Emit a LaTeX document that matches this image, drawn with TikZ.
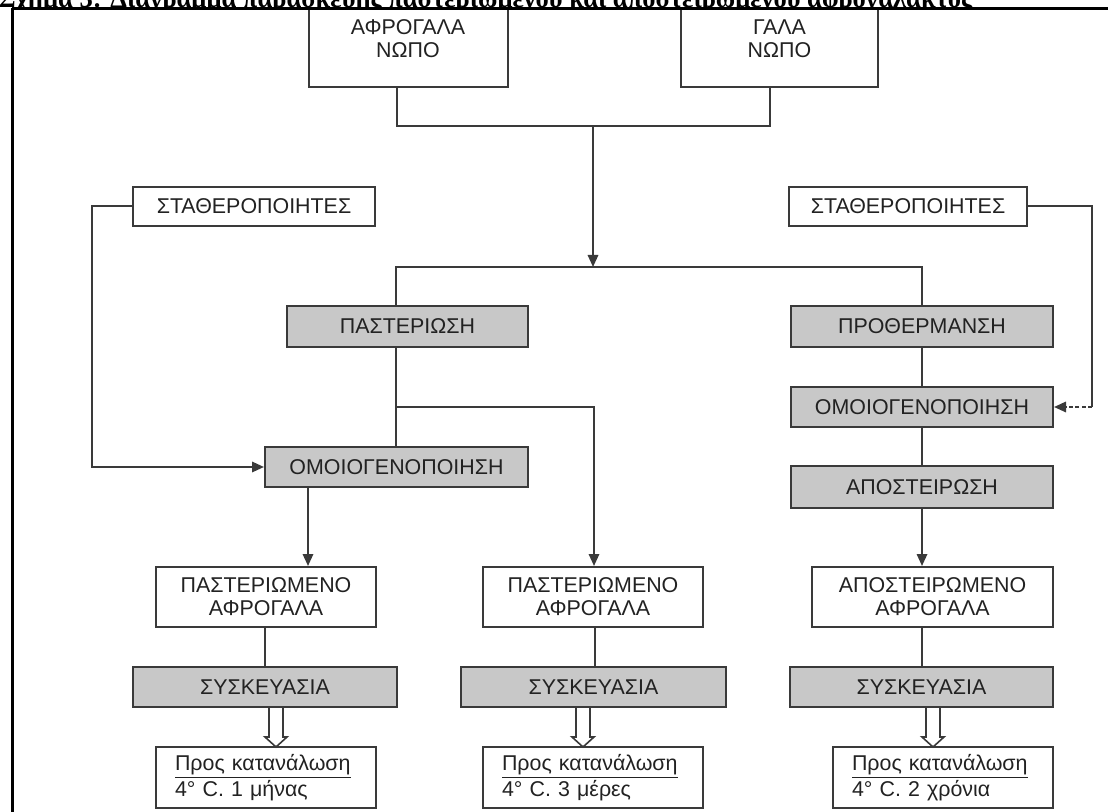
\documentclass[tikz,border=0pt]{standalone}
\usepackage{fontspec}
\setmainfont{Liberation Serif}
\newfontfamily\boxfont{Liberation Sans}
\usetikzlibrary{arrows.meta}
\definecolor{linec}{HTML}{3A3A3A}
\definecolor{boxgrey}{HTML}{C8C8C8}
\definecolor{textc}{HTML}{222222}

\begin{document}
\begin{tikzpicture}[x=0.5pt,y=-0.5pt,
  box/.style={draw=linec,line width=1pt,fill=white,inner sep=0pt,align=center,
    text=textc,font={\boxfont\fontsize{10.7pt}{11.6pt}\selectfont}},
  gbox/.style={box,fill=boxgrey},
  conn/.style={draw=linec,line width=1pt},
  arr/.style={conn,-{Triangle[length=6pt,width=5.2pt]}},
  note/.style={box,align=left,inner xsep=9.5pt,text width=91pt,minimum height=30.5pt},
  hollowarrow/.pic={\draw[draw=linec,line width=0.8pt,fill=white]
    (-7,0) -- (-7,29) -- (-11,29) -- (0,39) -- (11,29) -- (7,29) -- (7,0);}
]
\useasboundingbox (0,0) rectangle (1108,812);
\clip (0,0) rectangle (1108,812);

% raw materials (their tops run above the frame)
\node[box,minimum width=99.5pt,minimum height=48.5pt] (milkA) at (408,38.5) {ΑΦΡΟΓΑΛΑ\\ΝΩΠΟ};
\node[box,minimum width=98.5pt,minimum height=48.5pt] (milkB) at (779.5,38.5) {ΓΑΛΑ\\ΝΩΠΟ};

% stabilisers
\node[box,minimum width=121pt,minimum height=19.5pt] (stabL) at (254,206.5) {ΣΤΑΘΕΡΟΠΟΙΗΤΕΣ};
\node[box,minimum width=119pt,minimum height=19.5pt] (stabR) at (908,206.5) {ΣΤΑΘΕΡΟΠΟΙΗΤΕΣ};

% process steps
\node[gbox,minimum width=120.5pt,minimum height=20.5pt] (past) at (407.5,326.5) {ΠΑΣΤΕΡΙΩΣΗ};
\node[gbox,minimum width=131pt,minimum height=20.5pt] (preh) at (922,326.5) {ΠΡΟΘΕΡΜΑΝΣΗ};
\node[gbox,minimum width=131.5pt,minimum height=20pt] (homL) at (396.5,467) {ΟΜΟΙΟΓΕΝΟΠΟΙΗΣΗ};
\node[gbox,minimum width=131pt,minimum height=20pt] (homR) at (922,407) {ΟΜΟΙΟΓΕΝΟΠΟΙΗΣΗ};
\node[gbox,minimum width=131pt,minimum height=21pt] (ster) at (922,487) {ΑΠΟΣΤΕΙΡΩΣΗ};

% products
\node[box,minimum width=110pt,minimum height=30pt] (prodL) at (266,597) {ΠΑΣΤΕΡΙΩΜΕΝΟ\\ΑΦΡΟΓΑΛΑ};
\node[box,minimum width=110pt,minimum height=30pt] (prodM) at (593,597) {ΠΑΣΤΕΡΙΩΜΕΝΟ\\ΑΦΡΟΓΑΛΑ};
\node[box,minimum width=120.5pt,minimum height=30pt] (prodR) at (932.5,597) {ΑΠΟΣΤΕΙΡΩΜΕΝΟ\\ΑΦΡΟΓΑΛΑ};

% packaging
\node[gbox,minimum width=132pt,minimum height=20pt] (packL) at (265,687) {ΣΥΣΚΕΥΑΣΙΑ};
\node[gbox,minimum width=132.5pt,minimum height=20pt] (packM) at (593.5,687) {ΣΥΣΚΕΥΑΣΙΑ};
\node[gbox,minimum width=131.5pt,minimum height=20pt] (packR) at (921.5,687) {ΣΥΣΚΕΥΑΣΙΑ};

% storage notes
\node[note] (consL) at (266,777.5) {\underline{Προς κατανάλωση}\\4° C. 1 μήνας};
\node[note] (consM) at (593,777.5) {\underline{Προς κατανάλωση}\\4° C. 3 μέρες};
\node[note] (consR) at (943,777.5) {\underline{Προς κατανάλωση}\\4° C. 2 χρόνια};

% junction points
\coordinate (jtop) at (593,126);
\coordinate (jsplit) at (593,267);
\coordinate (lbend) at (92,300);
\coordinate (rbend) at (1092,407);
\coordinate (pbr) at (396,407);

% connectors
\draw[conn] (milkA.south -| 397,0) |- (jtop) -| (milkB.south -| 770,0);
\draw[arr] (jtop) -- (jsplit);
\draw[conn] (past.north -| 396,0) |- (jsplit) -| (preh.north);
\draw[arr] (stabL.west) -| (lbend) |- (homL.west);
\draw[conn] (stabR.east) -| (rbend);
\draw[arr,dash pattern=on 2pt off 1.25pt] (rbend) -- (homR.east);
\draw[conn] (past.south -| pbr) -- (homL.north -| pbr);
\draw[arr] (pbr) -| (prodM.north -| 594,0);
\draw[arr] (homL.south -| 308,0) -- (prodL.north -| 308,0);
\draw[conn] (preh.south) -- (homR.north);
\draw[conn] (homR.south) -- (ster.north);
\draw[arr] (ster.south) -- (ster.south |- prodR.north);
\draw[conn] (prodL.south -| packL.north) -- (packL.north);
\draw[conn] (prodM.south -| 595,0) -- (packM.north -| 595,0);
\draw[conn] (prodR.south -| packR.north) -- (packR.north);

% hollow arrows to storage
\pic at (packL.south -| 276,0) {hollowarrow};
\pic at (packM.south -| 583,0) {hollowarrow};
\pic at (packR.south -| 933,0) {hollowarrow};

% caption above the frame, only its lower part on the page
\begin{scope}
\clip (0,0) rectangle (1108,8);
\fill[white] (0,0) rectangle (1108,8);
\node[anchor=base west,inner sep=0pt] (title) at (-2,7.5) {\resizebox{487pt}{!}{\bfseries Σχήμα 3: Διάγραμμα παρασκευής παστεριωμένου και αποστειρωμένου αφρογάλακτος}};
\end{scope}

% frame
\coordinate (frameTL) at (12,8.5);
\draw[black,line width=1.3pt] (1110,8.5) -- (frameTL);
\draw[black,line width=1.5pt] (12,8) -- (12,814);
\end{tikzpicture}
\end{document}
